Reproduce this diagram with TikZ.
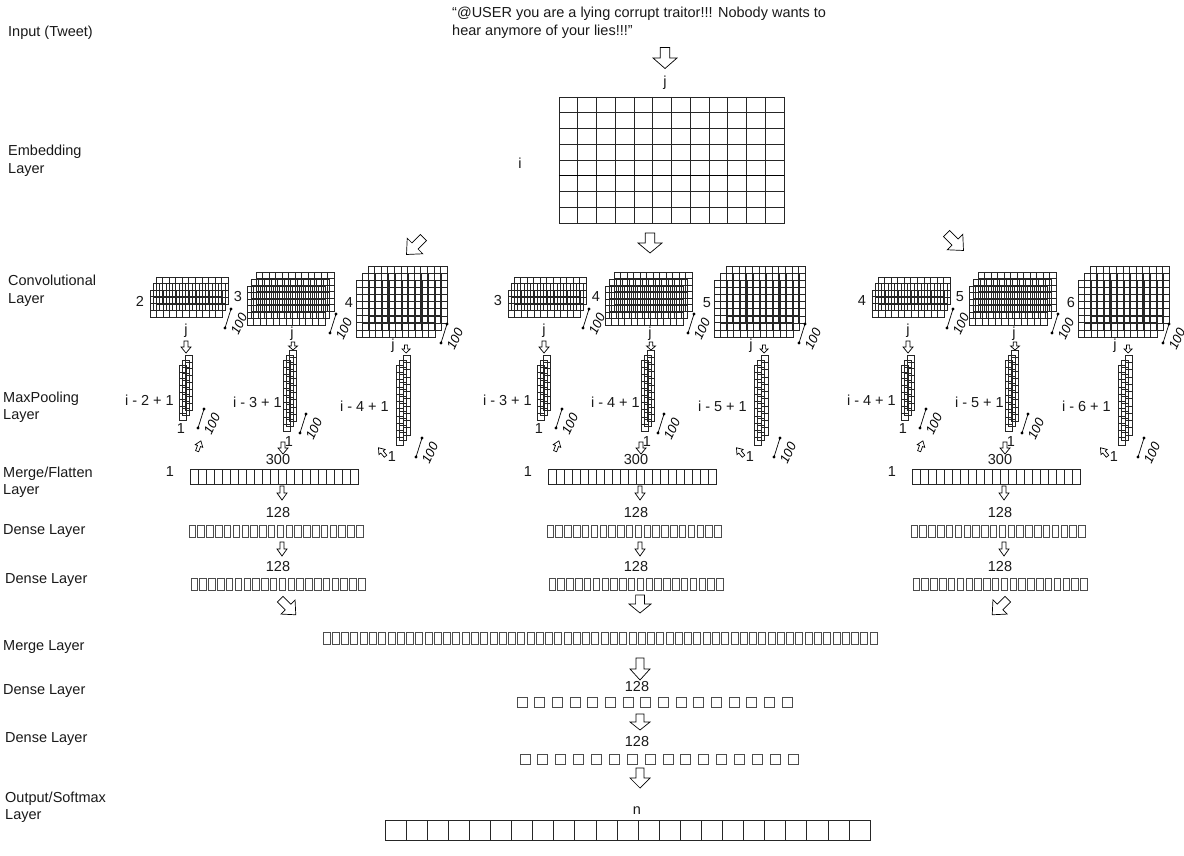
\documentclass[tikz,border=0pt]{standalone}
\usepackage{fontspec}
\setmainfont{Liberation Sans}
\tikzset{
 gl/.style={draw=black!85, line width=0.6pt},
 bx/.style={draw=black!70, line width=0.75pt},
 lbl/.style={font=\fontsize{14.5}{17.5}\selectfont, inner sep=0pt, text=black!90},
 side/.style={lbl, anchor=west, align=left},
 hund/.style={font=\fontsize{13}{15}\selectfont\itshape, rotate=65, inner sep=0pt},
 blk/.style={draw=black, line width=0.7pt, fill=white, line join=miter},
}
% block arrow: cx, cy, w, h, rotation
\newcommand{\blockarrow}[5]{%
 \draw[blk, shift={(#1,#2)}, rotate=#5, xscale=#3, yscale=#4]
  (-0.2,-0.5) -- (0.2,-0.5) -- (0.2,0) -- (0.5,0) -- (0,0.5) -- (-0.5,0) -- (-0.2,0) -- cycle;}
% grid: x, y (top-left), w, h, ncols, nrows
\newcommand{\mygrid}[6]{%
 \draw[gl] ({#1},{#2}) rectangle ({(#1)+(#3)},{(#2)+(#4)});
 \foreach \k in {1,...,#5}{\draw[gl] ({(#1)+(#3)/(#5)*\k},{#2}) -- ({(#1)+(#3)/(#5)*\k},{(#2)+(#4)});}
 \foreach \k in {1,...,#6}{\draw[gl] ({#1},{(#2)+(#4)/(#6)*\k}) -- ({(#1)+(#3)},{(#2)+(#4)/(#6)*\k});}}
% stack of three grids: L, T, W, H, dx, dy, ncols, nrows
\newcommand{\mystack}[8]{%
 \mygrid{(#1)+2*(#5)}{#2}{(#3)-2*(#5)}{(#4)-2*(#6)}{#7}{#8}
 \mygrid{(#1)+(#5)}{(#2)+(#6)}{(#3)-2*(#5)}{(#4)-2*(#6)}{#7}{#8}
 \mygrid{#1}{(#2)+2*(#6)}{(#3)-2*(#5)}{(#4)-2*(#6)}{#7}{#8}}
% row of boxes: x1, y, x2, n, bw, bh
\newcommand{\boxrow}[6]{%
 \foreach \k in {1,...,#4}{\draw[bx] ({(#1)+((#3)-(#1)-(#5))/((#4)-1)*(\k-1)},{#2}) rectangle ++(#5,#6);}}
% cell bar: x, y, w, h, n
\newcommand{\cellbar}[5]{%
 \draw[gl] ({#1},{#2}) rectangle ({(#1)+(#3)},{(#2)+(#4)});
 \foreach \k in {1,...,#5}{\draw[gl] ({(#1)+(#3)/(#5)*\k},{#2}) -- ({(#1)+(#3)/(#5)*\k},{(#2)+(#4)});}}
% dimension mark with 100: bottom dot x, y, node name
\newcommand{\hmark}[3]{%
 \draw[line width=0.7pt] (#1,#2) -- ({(#1)+6},{(#2)-19});
 \fill ({#1},{#2}) circle[radius=1.6pt];
 \fill ({(#1)+6},{(#2)-19}) circle[radius=1.6pt];
 \node[hund] (#3) at ({(#1)+14},{(#2)-4}) {100};}
% one branch: x offset, prefix, three filter sizes
\newcommand{\branch}[5]{%
\begin{scope}[shift={(#1,0)}]
 \mystack{150}{277}{78}{40}{3}{6.5}{11}{4}
 \mystack{247}{272}{87}{53}{4.5}{7}{12}{6}
 \mystack{356}{266}{91}{71}{6}{7}{12}{8}
 \node[lbl] (#2f1) at (140,301) {#3};
 \node[lbl] (#2f2) at (238,297) {#4};
 \node[lbl] (#2f3) at (349,303) {#5};
 \node[lbl] (#2j1) at (186,331) {j};
 \node[lbl] (#2j2) at (292,334) {j};
 \node[lbl] (#2j3) at (393,346) {j};
 \hmark{225}{328}{#2c1}
 \hmark{330}{333}{#2c2}
 \hmark{441}{343}{#2c3}
 \blockarrow{186}{347}{10}{12}{0}
 \blockarrow{293}{346}{9}{8}{0}
 \blockarrow{406}{349}{8}{8}{0}
 \mystack{179}{355}{13}{65}{3}{5}{1}{8}
 \mystack{283}{350}{13}{81}{3}{5}{1}{10}
 \mystack{396}{355}{14}{90}{3.5}{5}{1}{11}
 \node[lbl, anchor=east] (#2p1) at (174,400) {i - #3 + 1};
 \node[lbl, anchor=east] (#2p2) at (282,402) {i - #4 + 1};
 \node[lbl, anchor=east] (#2p3) at (389,406) {i - #5 + 1};
 \node[lbl] (#2o1) at (181,429) {1};
 \node[lbl] (#2o2) at (289,442) {1};
 \node[lbl] (#2o3) at (392,457) {1};
 \hmark{198}{428}{#2m1}
 \hmark{300}{433}{#2m2}
 \hmark{416}{457}{#2m3}
 \blockarrow{199}{446}{8}{11}{160}
 \blockarrow{283}{448}{10}{12}{0}
 \blockarrow{382}{452}{8}{11}{-140}
 \node[lbl] (#2one) at (170,472) {1};
 \node[lbl] (#2tre) at (278,460) {300};
 \cellbar{190}{469}{168}{15}{21}
 \blockarrow{282}{493}{10}{14}{0}
 \node[lbl] (#2da) at (278,513) {128};
 \boxrow{189}{525}{363}{20}{6.5}{12}
 \blockarrow{282}{549}{10}{14}{0}
 \node[lbl] (#2db) at (278,567) {128};
 \boxrow{191}{578}{365}{20}{6.5}{12}
\end{scope}}

\begin{document}
\begin{tikzpicture}[x=1pt,y=-1pt]
\useasboundingbox (0,0) rectangle (1184,856);
% side labels
\node[side] (sin) at (8,33) {Input (Tweet)};
\node[side] (semb) at (8,161) {Embedding\\Layer};
\node[side] (sconv) at (8,291) {Convolutional\\Layer};
\node[side] (smax) at (3,407) {MaxPooling\\Layer};
\node[side] (sflat) at (3,482) {Merge/Flatten\\Layer};
\node[side] (sd1) at (3,531) {Dense Layer};
\node[side] (sd2) at (5,580) {Dense Layer};
\node[side] (smerge) at (3,647) {Merge Layer};
\node[side] (sd3) at (3,691) {Dense Layer};
\node[side] (sd4) at (5,739) {Dense Layer};
\node[side] (sout) at (5,807) {Output/Softmax\\Layer};
% tweet
\node[side] (tweet) at (452,23) {“@USER you are a lying corrupt traitor!!! Nobody wants to\\hear anymore of your lies!!!”};
\blockarrow{665}{58}{24}{21}{0}
\node[lbl] (ej) at (665,83) {j};
\node[lbl] (ei) at (520,163) {i};
\mygrid{559}{97}{225}{126}{12}{8}
\draw[line width=1.2pt] (559,175.75) -- (784,175.75);
% arrows to branches
\blockarrow{415}{246}{22}{24}{-45}
\blockarrow{650}{243}{24}{20}{0}
\blockarrow{955}{242}{22}{24}{45}
% branches
\branch{0}{L}{2}{3}{4}
\branch{358}{M}{3}{4}{5}
\branch{722}{R}{4}{5}{6}
% branch outputs
\blockarrow{288}{607}{20}{22}{45}
\blockarrow{640}{604}{22}{18}{0}
\blockarrow{1000}{607}{20}{22}{-45}
% merge
\boxrow{323}{632}{877}{60}{7}{12}
\blockarrow{640}{669}{20}{22}{0}
\node[lbl] (g1) at (637,687) {128};
\boxrow{517}{697}{792}{16}{10}{10}
\blockarrow{640}{722}{20}{16}{0}
\node[lbl] (g2) at (637,742) {128};
\boxrow{520}{754}{798}{16}{10}{10}
\blockarrow{640}{778}{20}{20}{0}
\node[lbl] (gn) at (637,811) {n};
\cellbar{385}{820}{485}{20}{23}
\end{tikzpicture}
\end{document}
